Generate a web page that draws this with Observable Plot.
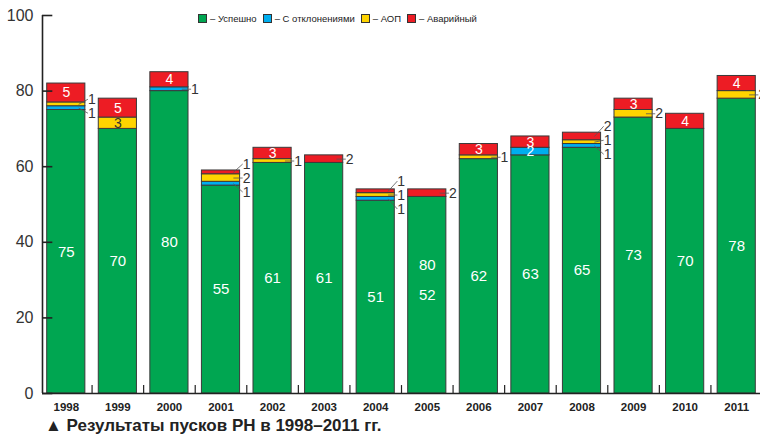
<!DOCTYPE html>
<html>
<head>
<meta charset="utf-8">
<script src="https://cdn.jsdelivr.net/npm/d3@7"></script>
<script src="https://cdn.jsdelivr.net/npm/@observablehq/plot@0.6"></script>
<style>
  html, body { margin: 0; padding: 0; background: #fff; }
  #wrap { position: relative; width: 760px; height: 435px; overflow: hidden; font-family: "Liberation Sans", Arial, sans-serif; }
  #legend { position: absolute; top: 13px; left: 198px; display: flex; gap: 6px; font-family: "Liberation Sans Narrow", "Liberation Sans", Arial, sans-serif; font-size: 9.5px; color: #222; align-items: center; z-index: 2; }
  #legend .item { display: flex; align-items: center; gap: 3px; }
  #legend .sw { width: 9px; height: 9px; border: 1px solid #333; box-sizing: border-box; }
  #title { position: absolute; left: 45px; top: 416px; font-size: 17px; font-weight: bold; color: #222; white-space: nowrap; font-family: "Liberation Sans", Arial, sans-serif; }
  svg { overflow: visible; }
</style>
</head>
<body>
<div id="wrap">
  <div id="chart"></div>
  <div id="legend"></div>
  <div id="title">▲ Результаты пусков РН в 1998–2011 гг.</div>
</div>
<script>
const years = [1998, 1999, 2000, 2001, 2002, 2003, 2004, 2005, 2006, 2007, 2008, 2009, 2010, 2011];
const success   = [75, 70, 80, 55, 61, 61, 51, 52, 62, 63, 65, 73, 70, 78];
const deviation = [1, 0, 1, 1, 0, 0, 1, 0, 0, 2, 1, 0, 0, 0];
const aop       = [1, 3, 0, 2, 1, 0, 1, 0, 1, 0, 1, 2, 0, 2];
const failure   = [5, 5, 4, 1, 3, 2, 1, 2, 3, 3, 2, 3, 4, 4];
const seriesNames = ["Успешно", "С отклонениями", "АОП", "Аварийный"];
const seriesColors = ["#00a651", "#00aeef", "#ffd400", "#ed1c24"];
const yTicks = [0, 20, 40, 60, 80, 100];
// stray label printed in the original on the 2005 bar
const strayLabels = [{year: 2005, text: "80", value: 34}];

const series = [success, deviation, aop, failure];
const half = 0.37;
const segments = [];
years.forEach((yr, i) => {
  let base = 0;
  series.forEach((arr, k) => {
    const v = arr[i];
    if (v > 0) segments.push({i, year: yr, k, name: seriesNames[k], v, y1: base, y2: base + v, mid: base + v / 2});
    base += v;
  });
});
const isInside = s => s.k === 0 || s.v >= 3 || (s.k === 1 && s.v >= 2);
const inside = segments.filter(isInside);
const outside = [];
years.forEach((yr, i) => {
  const segs = segments.filter(s => s.i === i && !isInside(s)).sort((a, b) => b.y2 - a.y2);
  if (!segs.length) return;
  const top = d3.max(segs, s => s.y2), bot = d3.min(segs, s => s.y1);
  const c = (top + bot) / 2, n = segs.length, sp = 3.7;
  segs.forEach((s, j) => outside.push({...s, ly: c + ((n - 1) / 2 - j) * sp}));
});

const narrow = '"Liberation Sans Narrow", "Liberation Sans", Arial, sans-serif';
const chart = Plot.plot({
  width: 760,
  height: 413,
  marginTop: 15,
  marginBottom: 20,
  marginLeft: 40,
  marginRight: 0,
  style: {background: "#fff", fontFamily: '"Liberation Sans", Arial, sans-serif'},
  x: {domain: [-0.5, 13.5], range: [40, 762], axis: null},
  y: {domain: [0, 100], axis: null},
  color: {domain: seriesNames, range: seriesColors},
  marks: [
    Plot.rect(segments, {x1: d => d.i - half, x2: d => d.i + half, y1: "y1", y2: "y2", fill: "name", stroke: "#3a3a3a", strokeWidth: 1}),
    // y axis line and inward ticks
    Plot.ruleX([-0.5], {y1: 0, y2: 100, dx: 2, stroke: "#222", strokeWidth: 1.6}),
    Plot.ruleY(yTicks, {x1: -0.5, x2: -0.5 + 0.2, dx: 2, stroke: "#222", strokeWidth: 1.6}),
    Plot.text(yTicks, {x: -0.5, y: d => d, text: d => String(d), textAnchor: "end", dx: -7, fontSize: 16, fill: "#333"}),
    // x baseline and separators
    Plot.ruleY([0], {x1: -0.5, x2: 13.5, dx: 2, stroke: "#222", strokeWidth: 1.6}),
    Plot.ruleX(d3.range(0, 13).map(i => i + 0.5), {y1: 0, y2: 2.1, stroke: "#222", strokeWidth: 1.2}),
    Plot.text(years, {x: (d, i) => i, y: 0, dy: 14, text: d => String(d), fontSize: 11.5, fontWeight: "bold", fill: "#222"}),
    // inside labels
    Plot.text(inside, {x: "i", y: "mid", text: d => String(d.v), fill: d => d.k === 2 ? "#333" : "#fff", fontSize: d => d.k === 0 ? 15 : 14, fontFamily: narrow}),
    Plot.text(strayLabels, {x: d => years.indexOf(d.year), y: "value", text: "text", fill: "#fff", fontSize: 15, fontFamily: narrow}),
    // outside labels with leader lines
    Plot.link(outside, {x1: d => d.i + 0.24, y1: "mid", x2: d => d.i + 0.42, y2: "ly", stroke: "#555", strokeWidth: 0.8}),
    Plot.text(outside, {x: d => d.i + 0.42, y: "ly", text: d => String(d.v), textAnchor: "start", fill: "#333", fontSize: 14, fontFamily: narrow})
  ]
});
document.getElementById("chart").append(chart);

const legend = document.getElementById("legend");
seriesNames.forEach((n, k) => {
  const it = document.createElement("div");
  it.className = "item";
  const sw = document.createElement("span");
  sw.className = "sw";
  sw.style.background = seriesColors[k];
  const t = document.createElement("span");
  t.textContent = "– " + n;
  it.append(sw, t);
  legend.append(it);
});
</script>
</body>
</html>
